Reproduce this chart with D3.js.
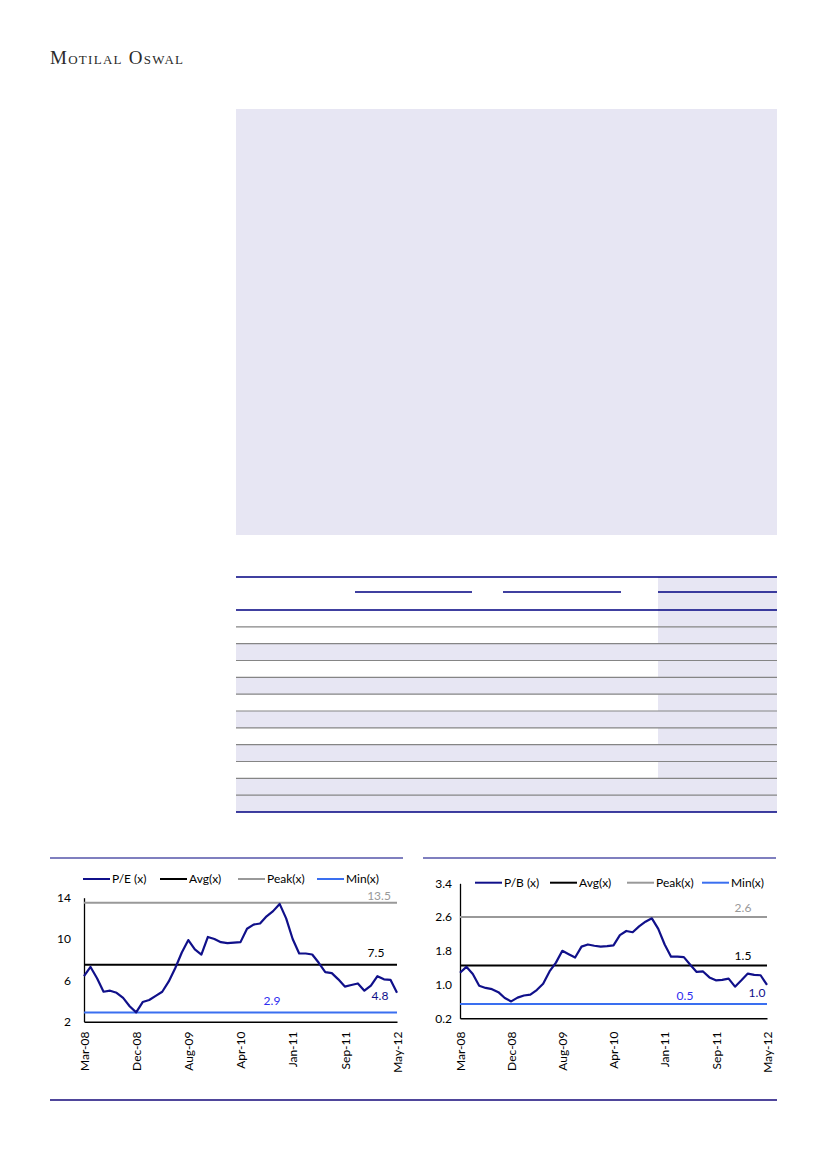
<!DOCTYPE html>
<html>
<head>
<meta charset="utf-8">
<script src="https://cdn.jsdelivr.net/npm/d3@7"></script>
<style>
  body { margin: 0; background: #fff; }
  text { font-family: Lato, 'Open Sans', sans-serif; }
</style>
</head>
<body>
<script>
// month labels shown on the x axis, one every 8 points
const tickLabels = ['Mar-08', 'Dec-08', 'Aug-09', 'Apr-10', 'Jan-11', 'Sep-11', 'May-12']
const tickIdx = [0, 8, 16, 24, 32, 40, 48]

// P/E (x) series
const peValues = [6.4, 7.3, 6.2, 4.9, 5.0, 4.8, 4.3, 3.5, 2.9, 3.9, 4.1, 4.5, 4.9, 5.9, 7.2, 8.7,
  9.9, 9.0, 8.5, 10.2, 10.0, 9.7, 9.6, 9.65, 9.7, 11.0, 11.4, 11.5, 12.2, 12.7, 13.4, 12.0,
  10.0, 8.6, 8.6, 8.5, 7.7, 6.8, 6.7, 6.1, 5.4, 5.55, 5.7, 5.0, 5.5, 6.4, 6.1, 6.05, 4.8]
const peRefs = { avg: 7.5, peak: 13.5, min: 2.9 }
const peTicks = [2, 6, 10, 14]

// P/B (x) series
const pbValues = [1.28, 1.42, 1.25, 0.97, 0.92, 0.89, 0.82, 0.68, 0.6, 0.69, 0.74, 0.76, 0.87, 1.02, 1.31, 1.52,
  1.8, 1.72, 1.64, 1.9, 1.95, 1.92, 1.9, 1.91, 1.93, 2.17, 2.27, 2.24, 2.38, 2.49, 2.57, 2.32,
  1.95, 1.66, 1.66, 1.65, 1.47, 1.3, 1.31, 1.17, 1.1, 1.11, 1.14, 0.95, 1.1, 1.26, 1.23, 1.22, 0.99]
const pbRefs = { avg: 1.45, peak: 2.6, min: 0.54 }
const pbTicks = [0.2, 1.0, 1.8, 2.6, 3.4]

// table row shading: 'col' = only the last column shaded, 'full' = whole row
const rowShade = ['col', 'col', 'full', 'col', 'full', 'col', 'full', 'col', 'full', 'col', 'full', 'full']

const navy = '#000080', lav = '#E7E6F3'

const svg = d3.select('body').append('svg')
  .attr('width', 826)
  .attr('height', 1169)

// header
svg.append('text')
  .attr('x', 50).attr('y', 64)
  .style('font-family', "'Liberation Serif', 'DejaVu Serif', serif")
  .style('font-variant', 'small-caps')
  .style('font-size', '19px')
  .attr('textLength', 133)
  .attr('lengthAdjust', 'spacing')
  .attr('fill', '#2a2a2a')
  .text('Motilal Oswal')

// big shaded box
svg.append('rect')
  .attr('x', 236).attr('y', 109)
  .attr('width', 541).attr('height', 426)
  .attr('fill', lav)

// table
const tx0 = 236, tx1 = 777, colX = 658
const rowY = d3.scaleBand().domain(d3.range(rowShade.length)).range([610, 812])

svg.append('rect')
  .attr('x', colX).attr('y', 577).attr('width', tx1 - colX).attr('height', 610 - 577)
  .attr('fill', lav)

svg.selectAll('rect.row')
  .data(rowShade)
  .enter().append('rect')
  .attr('class', 'row')
  .attr('x', d => d === 'full' ? tx0 : colX)
  .attr('y', (d, i) => rowY(i))
  .attr('width', d => d === 'full' ? tx1 - tx0 : tx1 - colX)
  .attr('height', rowY.bandwidth())
  .attr('fill', lav)

svg.selectAll('line.rowline')
  .data(d3.range(1, rowShade.length))
  .enter().append('line')
  .attr('class', 'rowline')
  .attr('x1', tx0).attr('x2', tx1)
  .attr('y1', d => rowY(d)).attr('y2', d => rowY(d))
  .attr('stroke', '#858585').attr('stroke-width', 1.2)

const hline = (x1, x2, y, c, w) => svg.append('line')
  .attr('x1', x1).attr('x2', x2).attr('y1', y).attr('y2', y)
  .attr('stroke', c).attr('stroke-width', w)

hline(tx0, tx1, 577, navy, 1.3)
hline(tx0, tx1, 610, navy, 1.3)
hline(tx0, tx1, 812, navy, 1.3)
hline(355, 472, 592, navy, 1.3)
hline(503, 621, 592, navy, 1.3)
hline(658, 777, 592, navy, 1.3)

// chart top rules and footer
hline(50, 403, 858, navy, 1.1)
hline(423, 776, 858, navy, 1.1)
hline(50, 777, 1100, '#14087a', 1.6)

const colors = { series: '#10108a', avg: '#000', peak: '#999', min: '#3a6ff0' }

function drawChart(opt) {
  const g = svg.append('g')
  const x = d3.scaleLinear().domain([0, opt.values.length - 1]).range([opt.x0, opt.x1])
  const y = d3.scaleLinear().domain(d3.extent(opt.ticks)).range([opt.yb, opt.yt])

  // y axis
  const ya = g.append('g')
    .attr('transform', `translate(${opt.x0},0)`)
    .call(d3.axisLeft(y).tickValues(opt.ticks).tickSize(0).tickPadding(opt.pad)
      .tickFormat(opt.fmt))
  ya.select('.domain').attr('stroke', '#000').attr('stroke-width', 1.3)
  ya.selectAll('text').style('font-size', '12px').style('font-family', 'Lato').attr('fill', '#000')

  // x axis
  const xa = g.append('g')
    .attr('transform', `translate(0,${opt.yb})`)
    .call(d3.axisBottom(x).tickValues(tickIdx).tickSize(0)
      .tickFormat((d, i) => tickLabels[i]))
  xa.select('.domain').attr('stroke', '#000').attr('stroke-width', 1.5)
  xa.selectAll('text')
    .attr('y', 0).attr('x', -(1031.5 - opt.yb)).attr('dy', '0.35em')
    .attr('transform', 'rotate(-90)')
    .style('text-anchor', 'end')
    .style('font-size', '12px').style('font-family', 'Lato').attr('fill', '#000')

  // reference lines
  const refs = [['peak', opt.refs.peak], ['avg', opt.refs.avg], ['min', opt.refs.min]]
  g.selectAll('line.ref')
    .data(refs)
    .enter().append('line')
    .attr('x1', opt.x0).attr('x2', opt.x1)
    .attr('y1', d => y(d[1])).attr('y2', d => y(d[1]))
    .attr('stroke', d => colors[d[0]])
    .attr('stroke-width', 2)

  // series
  const line = d3.line().x((d, i) => x(i)).y(d => y(d))
  g.append('path')
    .datum(opt.values)
    .attr('d', line)
    .attr('fill', 'none')
    .attr('stroke', colors.series)
    .attr('stroke-width', 2.2)
    .attr('stroke-linejoin', 'round')

  // value labels
  const labs = [
    { t: opt.refs.peakLabel, x: opt.lab.peak[0], y: y(opt.refs.peak) + opt.lab.peak[1], c: '#999' },
    { t: opt.refs.avgLabel, x: opt.lab.avg[0], y: y(opt.refs.avg) + opt.lab.avg[1], c: '#000' },
    { t: opt.refs.minLabel, x: opt.lab.min[0], y: y(opt.refs.min) + opt.lab.min[1], c: '#2d2df0' },
    { t: opt.lastLabel, x: opt.lab.last[0], y: y(opt.values[opt.values.length - 1]) + opt.lab.last[1], c: colors.series }
  ]
  g.selectAll('text.lab')
    .data(labs)
    .enter().append('text')
    .attr('x', d => d.x).attr('y', d => d.y)
    .attr('text-anchor', 'middle')
    .attr('fill', d => d.c)
    .style('font-size', '12px')
    .text(d => d.t)

  // legend
  const leg = g.selectAll('g.leg')
    .data(opt.legend)
    .enter().append('g')
    .attr('transform', d => `translate(${d.x},${opt.legY})`)
  leg.append('line')
    .attr('x1', 0).attr('x2', 27)
    .attr('stroke', d => colors[d.key]).attr('stroke-width', 2)
  leg.append('text')
    .attr('x', 29).attr('dy', '0.35em')
    .style('font-size', '12px')
    .text(d => d.name)
}

drawChart({
  values: peValues, ticks: peTicks, refs: { ...peRefs, peakLabel: '13.5', avgLabel: '7.5', minLabel: '2.9' },
  lastLabel: '4.8', fmt: d3.format('d'),
  x0: 84, x1: 397, yb: 1021.7, yt: 897.7, pad: 13, legY: 879,
  lab: { peak: [379, -2.5], avg: [376, -8], min: [272, -7], last: [380, 7] },
  legend: [
    { key: 'series', name: 'P/E (x)', x: 83 },
    { key: 'avg', name: 'Avg(x)', x: 160 },
    { key: 'peak', name: 'Peak(x)', x: 238 },
    { key: 'min', name: 'Min(x)', x: 317 }
  ]
})

drawChart({
  values: pbValues, ticks: pbTicks, refs: { ...pbRefs, peakLabel: '2.6', avgLabel: '1.5', minLabel: '0.5' },
  lastLabel: '1.0', fmt: d3.format('.1f'),
  x0: 460, x1: 767, yb: 1018.3, yt: 883.3, pad: 8, legY: 882.7,
  lab: { peak: [743, -5], avg: [743, -5.5], min: [685, -4], last: [757, 12] },
  legend: [
    { key: 'series', name: 'P/B (x)', x: 475 },
    { key: 'avg', name: 'Avg(x)', x: 550 },
    { key: 'peak', name: 'Peak(x)', x: 627 },
    { key: 'min', name: 'Min(x)', x: 702 }
  ]
})
</script>
</body>
</html>
